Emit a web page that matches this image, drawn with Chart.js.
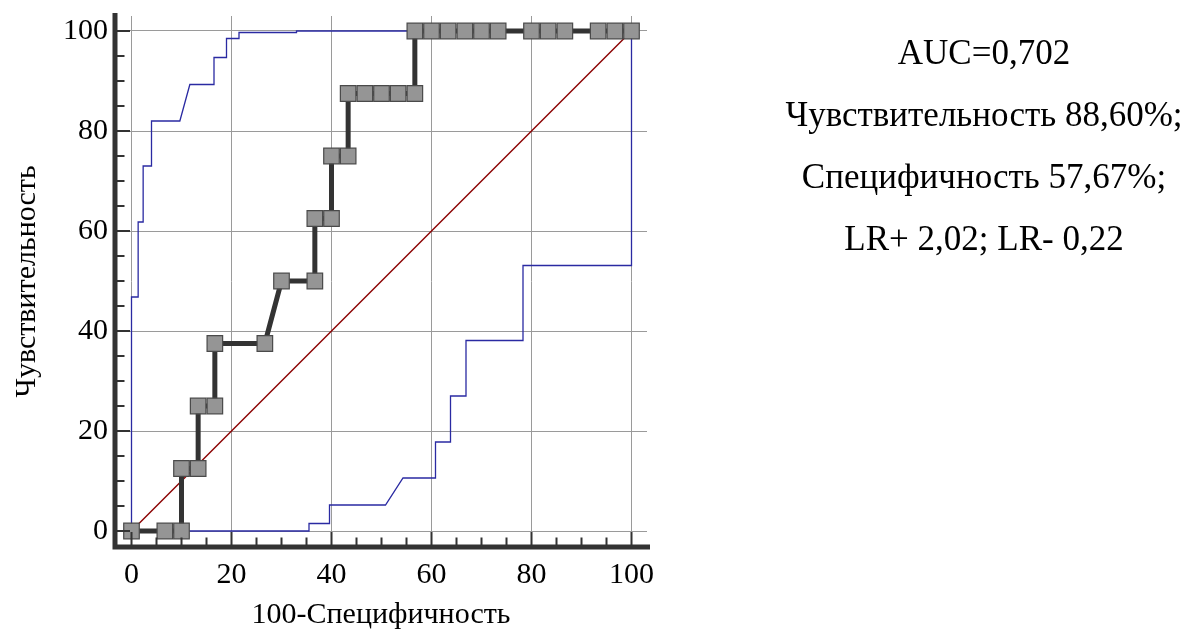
<!DOCTYPE html>
<html>
<head>
<meta charset="utf-8">
<script src="https://cdn.jsdelivr.net/npm/chart.js@4.4.1/dist/chart.umd.min.js"></script>
<style>
  html, body { margin: 0; padding: 0; background: #fff; }
  #wrap { position: relative; width: 1192px; height: 630px; overflow: hidden; }
  #rocChart { position: absolute; left: 0; top: 0; }
  #info {
    position: absolute; left: 734px; top: 22px; width: 500px;
    text-align: center; font-family: 'Liberation Serif', 'Times New Roman', serif;
    font-size: 35px; line-height: 62px; color: #000;
  }
</style>
</head>
<body>
<div id="wrap">
  <canvas id="rocChart" width="1192" height="630"></canvas>
  <div id="info">
    <div>AUC=0,702</div>
    <div>Чувствительность 88,60%;</div>
    <div>Специфичность 57,67%;</div>
    <div>LR+ 2,02; LR- 0,22</div>
  </div>
</div>
<script>
// ROC curve (100-specificity, sensitivity)
const rocX = [0, 6.67, 10, 10, 13.33, 13.33, 16.67, 16.67, 26.67, 30, 36.67, 36.67, 40, 40, 43.33, 43.33,
  46.67, 50, 53.33, 56.67, 56.67, 60, 63.33, 66.67, 70, 73.33, 80, 83.33, 86.67, 93.33, 96.67, 100];
const rocY = [0, 0, 0, 12.5, 12.5, 25, 25, 37.5, 37.5, 50, 50, 62.5, 62.5, 75, 75, 87.5,
  87.5, 87.5, 87.5, 87.5, 100, 100, 100, 100, 100, 100, 100, 100, 100, 100, 100, 100];

// confidence bounds
const upperX = [0, 0, 1.33, 1.33, 2.33, 2.33, 4, 4, 9.67, 11.67, 16.5, 16.5, 19, 19, 21.5, 21.5, 33, 33, 100];
const upperY = [0, 46.8, 46.8, 61.8, 61.8, 73, 73, 82, 82, 89.3, 89.3, 94.7, 94.7, 98.5, 98.5, 99.7, 99.7, 100, 100];
const lowerX = [0, 35.5, 35.5, 39.6, 39.6, 50.8, 54.3, 60.8, 60.8, 63.8, 63.8, 66.9, 66.9, 78.3, 78.3, 100, 100];
const lowerY = [0, 0, 1.5, 1.5, 5.2, 5.2, 10.6, 10.6, 17.8, 17.8, 27, 27, 38.1, 38.1, 53.1, 53.1, 100];

// reference diagonal
const diagX = [0, 100];
const diagY = [0, 100];

// axes
const majorTicks = [0, 20, 40, 60, 80, 100];
const minorTicks = [0, 5, 10, 15, 20, 25, 30, 35, 40, 45, 50, 55, 60, 65, 70, 75, 80, 85, 90, 95, 100];

function toPoints(xs, ys) {
    return xs.map(function(x, i) { return { x: x, y: ys[i] }; });
}

const serif = "'Liberation Serif', 'Times New Roman', serif";

// axis lines with inward ticks
const axesPlugin = {
    id: 'rocAxes',
    afterDraw: function(chart) {
        const ctx = chart.ctx;
        const a = chart.chartArea;
        const xs = chart.scales.x;
        const ys = chart.scales.y;
        ctx.save();
        ctx.strokeStyle = '#333';
        ctx.lineWidth = 2;
        ctx.beginPath();
        minorTicks.forEach(function(v) {
            const len = majorTicks.includes(v) ? 15 : 9.5;
            const px = xs.getPixelForValue(v);
            ctx.moveTo(px, a.bottom);
            ctx.lineTo(px, a.bottom - len);
            const py = ys.getPixelForValue(v);
            ctx.moveTo(a.left, py);
            ctx.lineTo(a.left + len, py);
        });
        ctx.stroke();
        ctx.lineWidth = 5;
        ctx.lineJoin = 'miter';
        ctx.beginPath();
        ctx.moveTo(a.left, a.top - 3);
        ctx.lineTo(a.left, a.bottom);
        ctx.lineTo(a.right + 3, a.bottom);
        ctx.stroke();
        ctx.restore();
    }
};

const canvas = document.getElementById('rocChart');
const ctx = canvas.getContext('2d');

new Chart(ctx, {
    type: 'scatter',
    data: {
        datasets: [
            {
                data: toPoints(rocX, rocY),
                showLine: true,
                borderColor: '#333333',
                borderWidth: 5,
                pointStyle: 'rect',
                pointRadius: 11,
                pointBackgroundColor: '#959595',
                pointBorderColor: '#4a4a4a',
                pointBorderWidth: 1.2,
                order: 0
            },
            {
                data: toPoints(upperX, upperY),
                showLine: true,
                borderColor: '#2a2aa2',
                borderWidth: 1.3,
                pointRadius: 0,
                order: 2
            },
            {
                data: toPoints(lowerX, lowerY),
                showLine: true,
                borderColor: '#2a2aa2',
                borderWidth: 1.3,
                pointRadius: 0,
                order: 2
            },
            {
                data: toPoints(diagX, diagY),
                showLine: true,
                borderColor: '#8b0000',
                borderWidth: 1.5,
                pointRadius: 0,
                order: 1
            }
        ]
    },
    options: {
        responsive: false,
        animation: false,
        layout: { padding: { top: 16, right: 545, bottom: 0, left: 0 } },
        plugins: {
            legend: { display: false },
            tooltip: { enabled: false }
        },
        scales: {
            x: {
                type: 'linear',
                min: -3.3,
                max: 103.1,
                afterBuildTicks: function(s) { s.ticks = majorTicks.map(function(v) { return { value: v }; }); },
                afterFit: function(s) { s.height = 83; s.paddingLeft = 0; s.paddingRight = 0; },
                grid: { color: '#9a9a9a', lineWidth: 1, drawTicks: false },
                border: { display: false },
                ticks: { font: { family: serif, size: 30 }, color: '#000', padding: 10, maxRotation: 0 },
                title: {
                    display: true,
                    text: '100-Специфичность',
                    font: { family: serif, size: 30, lineHeight: 1 },
                    color: '#000',
                    padding: { top: 0, bottom: 0 }
                }
            },
            y: {
                type: 'linear',
                min: -3.2,
                max: 103,
                afterBuildTicks: function(s) { s.ticks = majorTicks.map(function(v) { return { value: v }; }); },
                afterFit: function(s) { s.width = 115; s.paddingTop = 0; s.paddingBottom = 0; },
                grid: { color: '#9a9a9a', lineWidth: 1, drawTicks: false },
                border: { display: false },
                ticks: { font: { family: serif, size: 30 }, color: '#000', padding: 7 },
                title: {
                    display: true,
                    text: 'Чувствительность',
                    font: { family: serif, size: 30, lineHeight: 1 },
                    color: '#000',
                    padding: { top: 12, bottom: 0 }
                }
            }
        }
    },
    plugins: [axesPlugin]
});
</script>
</body>
</html>
